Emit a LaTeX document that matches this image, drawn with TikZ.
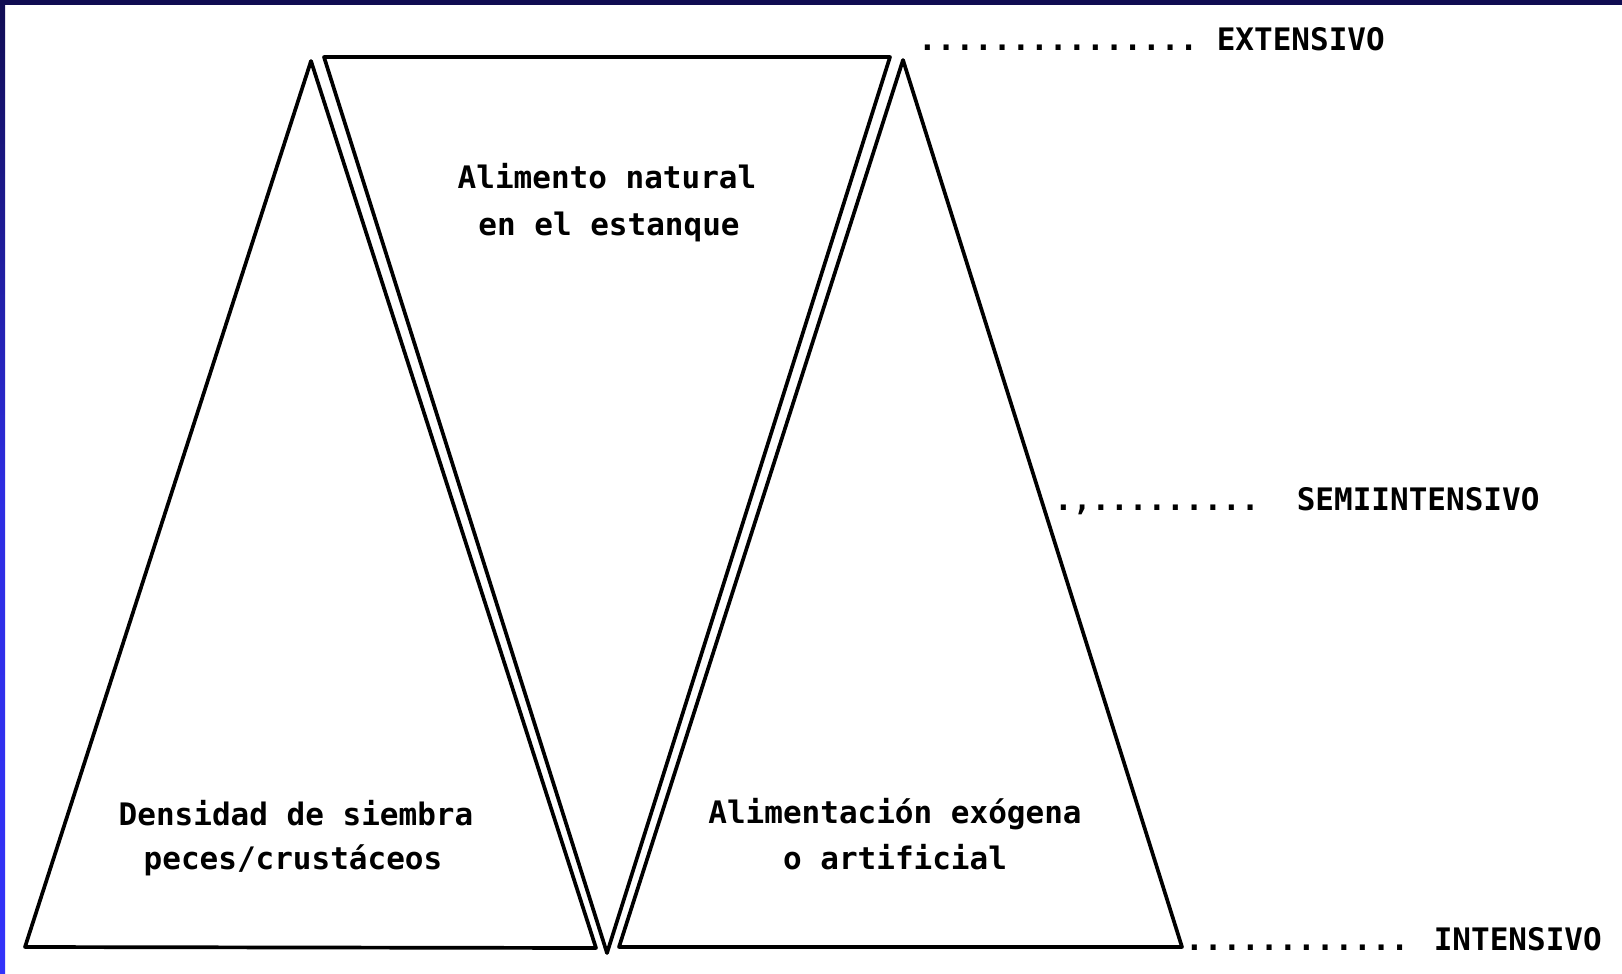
\documentclass[tikz,border=0pt]{standalone}
\usepackage{fontspec}
\newfontfamily\tw{DejaVu Sans Mono}
\definecolor{navy}{RGB}{16,12,82}
\definecolor{brightblue}{RGB}{50,50,250}
\tikzset{
  edge/.style={line width=3.7pt, line join=round, line cap=round, draw=black},
  lbl/.style={font=\tw\bfseries\fontsize{31}{37}\selectfont, inner sep=0pt, anchor=base},
  lvl/.style={lbl, anchor=base west},
}
\begin{document}
\begin{tikzpicture}[x=1pt,y=-1pt]
\useasboundingbox (0,0) rectangle (1622,974);
\fill[white] (0,0) rectangle (1622,974);
% frame bands
\shade[top color=navy, bottom color=brightblue, middle color=brightblue!85!navy] (0,0) rectangle (5,974);
\fill[navy] (0,0) rectangle (1622,5);
% left triangle
\draw[edge] (25,947) -- (311,61) -- (596,948) -- cycle;
% inverted triangle
\draw[edge] (324,57) -- (890,57) -- (607,953) -- cycle;
% right triangle
\draw[edge] (619,947) -- (903,60) -- (1182,947) -- cycle;
% labels
\node[lbl] (nat1) at (607,188) {Alimento natural};
\node[lbl] (nat2) at (609,235) {en el estanque};
\node[lbl] (den1) at (296,825) {Densidad de siembra};
\node[lbl] (den2) at (293,869) {peces/crustáceos};
\node[lbl] (ali1) at (895,823) {Alimentación exógena};
\node[lbl] (ali2) at (895,869) {o artificial};
% levels
\node[lvl] (ext) at (918,51) {...............~EXTENSIVO};
\node[lvl] (semi) at (1054,510) {.,.........~~SEMIINTENSIVO};
\node[lvl] (int) at (1185,950) {............~\hspace{6pt}INTENSIVO};
\end{tikzpicture}
\end{document}
